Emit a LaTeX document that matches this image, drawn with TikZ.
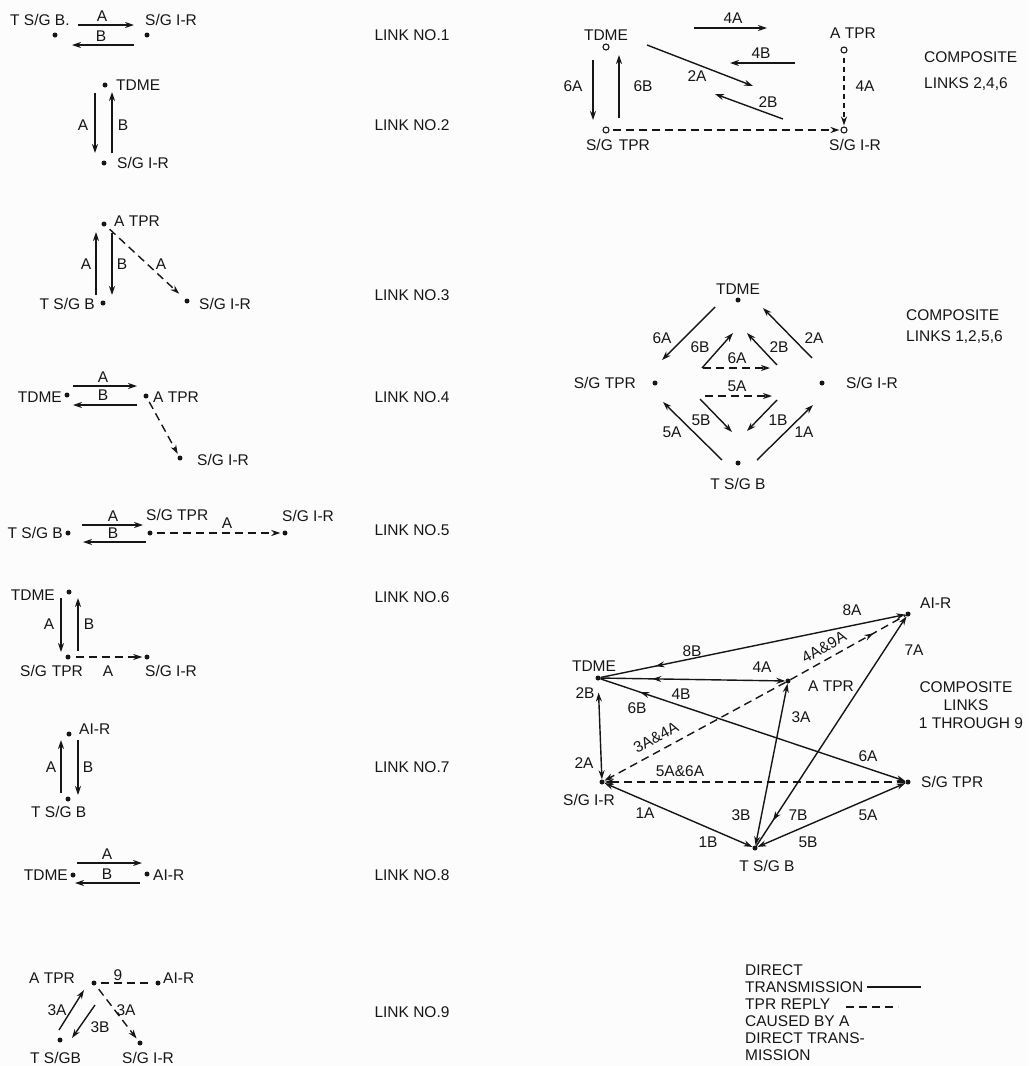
\documentclass[tikz,border=0pt]{standalone}
\usepackage{fontspec}
\setmainfont{Liberation Sans}
\usetikzlibrary{arrows.meta,calc,decorations.markings}
\definecolor{ink}{HTML}{161616}
\definecolor{paper}{HTML}{FCFCFC}
\tikzset{
  lb/.style={font=\fontsize{15.5}{18}\selectfont, text=ink, inner sep=0pt},
  dot/.style={circle, fill=ink, inner sep=0pt, minimum size=5pt},
  odot/.style={circle, draw=ink, line width=1.1pt, fill=paper, inner sep=0pt, minimum size=6pt},
  con/.style={draw=ink, line width=1.4pt},
  arr/.style={con, -{Stealth[length=9pt,width=6pt]}},
  barr/.style={con, {Stealth[length=9pt,width=6pt]}-{Stealth[length=9pt,width=6pt]}},
  dsh/.style={con, dash pattern=on 8pt off 5pt},
  rep/.style={dsh, -{Stealth[length=9pt,width=6pt]}},
  mk/.style={postaction={decorate}, decoration={markings, mark=at position #1 with {\arrow[ink]{Stealth[length=9pt,width=6pt]}}}},
  mkr/.style={postaction={decorate}, decoration={markings, mark=at position #1 with {\arrowreversed[ink]{Stealth[length=9pt,width=6pt]}}}},
}
\begin{document}
\begin{tikzpicture}[x=1pt,y=-1pt]
\fill[paper] (0,0) rectangle (1029,1066);
\useasboundingbox (0,0) rectangle (1029,1066);

% ---------------- LINK 1
\node[lb,anchor=west] (a1t) at (10,20) {T S/G B.};
\node[dot] (a1) at (55,35) {};
\node[lb,anchor=west] (b1t) at (145,20) {S/G I-R};
\node[dot] (b1) at (147,35) {};
\coordinate (k1a) at (78,25); \coordinate (k1b) at (134,25);
\coordinate (k1c) at (134,45); \coordinate (k1d) at (72,45);
\draw[arr] (k1a) -- (k1b);
\draw[arr] (k1c) -- (k1d);
\node[lb] (k1A) at (102,16) {A};
\node[lb] (k1B) at (101,36) {B};
\node[lb] (n1) at (412,35) {LINK NO.1};

% ---------------- LINK 2
\node[dot] (a2) at (105,85) {};
\node[lb,anchor=west] (a2t) at (116,85) {TDME};
\node[dot] (b2) at (104,163) {};
\node[lb,anchor=west] (b2t) at (117,163) {S/G I-R};
\coordinate (k2a) at (95,93); \coordinate (k2b) at (95,153);
\coordinate (k2c) at (112,153); \coordinate (k2d) at (112,92);
\draw[arr] (k2a) -- (k2b);
\draw[arr] (k2c) -- (k2d);
\node[lb] (k2A) at (83,125) {A};
\node[lb] (k2B) at (123,125) {B};
\node[lb] (n2) at (412,125) {LINK NO.2};

% ---------------- LINK 3
\node[dot] (a3) at (104,224) {};
\node[lb,anchor=west] (a3t) at (114,221) {A TPR};
\node[dot] (b3) at (103,303) {};
\node[lb,anchor=east] (b3t) at (95,304) {T S/G B};
\node[dot] (c3) at (187,301) {};
\node[lb,anchor=west] (c3t) at (199,304) {S/G I-R};
\coordinate (k3a) at (96,295); \coordinate (k3b) at (96,232);
\coordinate (k3c) at (112,233); \coordinate (k3d) at (112,295);
\draw[arr] (k3a) -- (k3b);
\draw[arr] (k3c) -- (k3d);
\draw[rep, shorten <=5pt, shorten >=8pt] (a3) -- (c3);
\node[lb] (k3A) at (86,264) {A};
\node[lb] (k3B) at (122,264) {B};
\node[lb] (k3C) at (161,264) {A};
\node[lb] (n3) at (412,295) {LINK NO.3};

% ---------------- LINK 4
\node[lb,anchor=east] (a4t) at (62,397) {TDME};
\node[dot] (a4) at (67,395) {};
\node[dot] (p4) at (146,396) {};
\node[lb,anchor=west] (p4t) at (153,397) {A TPR};
\node[dot] (c4) at (180,458) {};
\node[lb,anchor=west] (c4t) at (197,460) {S/G I-R};
\coordinate (k4a) at (73,386); \coordinate (k4b) at (137,386);
\coordinate (k4c) at (137,405); \coordinate (k4d) at (73,405);
\draw[arr] (k4a) -- (k4b);
\draw[arr] (k4c) -- (k4d);
\draw[rep, shorten <=4pt, shorten >=2pt] (p4) -- (c4);
\node[lb] (k4A) at (103,377) {A};
\node[lb] (k4B) at (103,395) {B};
\node[lb] (n4) at (412,397) {LINK NO.4};

% ---------------- LINK 5
\node[lb,anchor=east] (b5t) at (63,533) {T S/G B};
\node[dot] (b5) at (68,533) {};
\node[dot] (g5) at (150,533) {};
\node[lb,anchor=west] (g5t) at (146,515) {S/G TPR};
\node[dot] (r5) at (285,533) {};
\node[lb,anchor=west] (r5t) at (282,516) {S/G I-R};
\coordinate (k5a) at (82,525); \coordinate (k5b) at (143,525);
\coordinate (k5c) at (146,542); \coordinate (k5d) at (83,542);
\draw[arr] (k5a) -- (k5b);
\draw[arr] (k5c) -- (k5d);
\draw[rep, shorten <=4pt, shorten >=2pt] (g5) -- (r5);
\node[lb] (k5A) at (113,516) {A};
\node[lb] (k5B) at (113,533) {B};
\node[lb] (k5C) at (227,523) {A};
\node[lb] (n5) at (412,530) {LINK NO.5};

% ---------------- LINK 6
\node[lb,anchor=east] (a6t) at (55,595) {TDME};
\node[dot] (a6) at (69,592) {};
\node[dot] (g6) at (68,657) {};
\node[lb,anchor=west] (g6t) at (20,671) {S/G\hspace{5pt}TPR};
\node[dot] (r6) at (147,657) {};
\node[lb,anchor=west] (r6t) at (145,671) {S/G I-R};
\coordinate (k6a) at (61,598); \coordinate (k6b) at (61,652);
\coordinate (k6c) at (78,651); \coordinate (k6d) at (78,598);
\draw[arr] (k6a) -- (k6b);
\draw[arr] (k6c) -- (k6d);
\draw[rep, shorten <=5pt, shorten >=2pt] (g6) -- (r6);
\node[lb] (k6A) at (49,624) {A};
\node[lb] (k6B) at (89,624) {B};
\node[lb] (k6C) at (108,671) {A};
\node[lb] (n6) at (412,597) {LINK NO.6};

% ---------------- LINK 7
\node[dot] (a7) at (69,734) {};
\node[lb,anchor=west] (a7t) at (79,729) {AI-R};
\node[dot] (b7) at (68,799) {};
\node[lb,anchor=west] (b7t) at (31,812) {T S/G B};
\coordinate (k7a) at (61,793); \coordinate (k7b) at (61,740);
\coordinate (k7c) at (78,740); \coordinate (k7d) at (78,795);
\draw[arr] (k7a) -- (k7b);
\draw[arr] (k7c) -- (k7d);
\node[lb] (k7A) at (51,767) {A};
\node[lb] (k7B) at (88,767) {B};
\node[lb] (n7) at (412,767) {LINK NO.7};

% ---------------- LINK 8
\node[lb,anchor=east] (a8t) at (68,875) {TDME};
\node[dot] (a8) at (73,875) {};
\node[dot] (b8) at (147,874) {};
\node[lb,anchor=west] (b8t) at (153,875) {AI-R};
\coordinate (k8a) at (77,863); \coordinate (k8b) at (142,863);
\coordinate (k8c) at (140,883); \coordinate (k8d) at (75,883);
\draw[arr] (k8a) -- (k8b);
\draw[arr] (k8c) -- (k8d);
\node[lb] (k8A) at (107,854) {A};
\node[lb] (k8B) at (107,874) {B};
\node[lb] (n8) at (412,875) {LINK NO.8};

% ---------------- LINK 9
\node[lb,anchor=west] (p9t) at (29,978) {A TPR};
\node[dot] (p9l) at (94,983) {};
\node[dot] (a9l) at (158,983) {};
\node[lb,anchor=west] (a9t) at (163,978) {AI-R};
\node[dot] (b9l) at (60,1040) {};
\node[lb,anchor=west] (b9t) at (30,1058) {T S/GB};
\node[dot] (r9l) at (140,1043) {};
\node[lb,anchor=west] (r9t) at (122,1058) {S/G I-R};
\draw[dsh, shorten <=4pt, shorten >=3pt] (p9l) -- (a9l);
\node[lb] (k9n) at (118,975) {9};
\coordinate (k9a) at (59,1030); \coordinate (k9b) at (84,990);
\coordinate (k9c) at (95,1005); \coordinate (k9d) at (72,1038);
\draw[arr] (k9a) -- (k9b);
\draw[arr] (k9c) -- (k9d);
\draw[rep, shorten <=5pt, shorten >=3pt] (p9l) -- (r9l);
\node[lb] (k9A) at (57,1010) {3A};
\node[lb] (k9B) at (100,1027) {3B};
\node[lb] (k9C) at (126,1010) {3A};
\node[lb] (n9) at (412,1012) {LINK NO.9};

% ---------------- COMPOSITE 2,4,6
\node[lb] (t6t) at (606,35) {TDME};
\node[odot] (t6c) at (606,47) {};
\node[lb,anchor=west] (p6t) at (830,33) {A TPR};
\node[odot] (p6c) at (844,50) {};
\node[odot] (g6c) at (606,130) {};
\node[lb] (g6ct) at (618,145) {S/G\hspace{6pt}TPR};
\node[odot] (r6c) at (844,130) {};
\node[lb,anchor=west] (r6ct) at (829,145) {S/G I-R};
\coordinate (m6a) at (593,60);  \coordinate (m6b) at (593,120);
\coordinate (m6c) at (619,118); \coordinate (m6d) at (619,55);
\coordinate (m6e) at (694,28);  \coordinate (m6f) at (767,28);
\coordinate (m6g) at (795,63);  \coordinate (m6h) at (730,63);
\coordinate (m6i) at (647,45);  \coordinate (m6j) at (753,86);
\coordinate (m6k) at (783,119); \coordinate (m6l) at (715,94);
\draw[arr] (m6a) -- (m6b);
\draw[arr] (m6c) -- (m6d);
\draw[arr] (m6e) -- (m6f);
\draw[arr] (m6g) -- (m6h);
\draw[arr] (m6i) -- (m6j);
\draw[arr] (m6k) -- (m6l);
\draw[rep, shorten <=3pt, shorten >=1pt] (g6c) -- (r6c);
\draw[rep, shorten <=4pt, shorten >=1pt, dash pattern=on 5pt off 4pt] (p6c) -- (r6c);
\node[lb] (c6a) at (573,86) {6A};
\node[lb] (c6b) at (643,86) {6B};
\node[lb] (c6c) at (733,18) {4A};
\node[lb] (c6d) at (761,53) {4B};
\node[lb] (c6e) at (697,76) {2A};
\node[lb] (c6f) at (768,102) {2B};
\node[lb] (c6g) at (865,86) {4A};
\node[lb,anchor=west] (c6h) at (924,57) {COMPOSITE};
\node[lb,anchor=west] (c6i) at (924,84) {LINKS 2,4,6};

% ---------------- COMPOSITE 1,2,5,6
\node[lb] (t5t) at (738,289) {TDME};
\node[dot] (t5c) at (738,300) {};
\node[lb,anchor=east] (g5ct) at (636,383) {S/G TPR};
\node[dot] (g5c) at (655,383) {};
\node[dot] (r5c) at (822,383) {};
\node[lb,anchor=west] (r5ct) at (846,383) {S/G I-R};
\node[dot] (b5c) at (738,463) {};
\node[lb] (b5ct) at (738,484) {T S/G B};
\coordinate (m5a) at (715,307); \coordinate (m5b) at (662,360);
\coordinate (m5c) at (702,368); \coordinate (m5d) at (733,333);
\coordinate (m5e) at (777,365); \coordinate (m5f) at (747,333);
\coordinate (m5g) at (812,358); \coordinate (m5h) at (763,308);
\coordinate (m5i) at (703,368); \coordinate (m5j) at (770,368);
\coordinate (m5k) at (705,396); \coordinate (m5l) at (772,396);
\coordinate (m5m) at (722,460); \coordinate (m5n) at (663,402);
\coordinate (m5o) at (700,399); \coordinate (m5p) at (732,432);
\coordinate (m5q) at (777,400); \coordinate (m5r) at (747,431);
\coordinate (m5s) at (757,460); \coordinate (m5t) at (813,405);
\draw[arr] (m5a) -- (m5b);
\draw[arr] (m5c) -- (m5d);
\draw[arr] (m5e) -- (m5f);
\draw[arr] (m5g) -- (m5h);
\draw[rep] (m5i) -- (m5j);
\draw[rep] (m5k) -- (m5l);
\draw[arr] (m5m) -- (m5n);
\draw[arr] (m5o) -- (m5p);
\draw[arr] (m5q) -- (m5r);
\draw[arr] (m5s) -- (m5t);
\node[lb] (c5a) at (662,338) {6A};
\node[lb] (c5b) at (700,347) {6B};
\node[lb] (c5c) at (779,347) {2B};
\node[lb] (c5d) at (814,338) {2A};
\node[lb] (c5e) at (737,358) {6A};
\node[lb] (c5f) at (737,386) {5A};
\node[lb] (c5g) at (672,432) {5A};
\node[lb] (c5h) at (701,420) {5B};
\node[lb] (c5i) at (778,420) {1B};
\node[lb] (c5j) at (804,432) {1A};
\node[lb,anchor=west] (c5k) at (906,315) {COMPOSITE};
\node[lb,anchor=west] (c5l) at (906,337) {LINKS 1,2,5,6};

% ---------------- COMPOSITE 1 THROUGH 9
\node[dot] (tc) at (598,678) {};
\node[lb] (tct) at (594,666) {TDME};
\node[dot] (pc) at (788,681) {};
\node[lb,anchor=west] (pct) at (808,686) {A TPR};
\node[dot] (ac) at (908,614) {};
\node[lb,anchor=west] (act) at (920,603) {AI-R};
\node[dot] (sc) at (602,782) {};
\node[lb] (sct) at (589,800) {S/G I-R};
\node[dot] (gc) at (908,782) {};
\node[lb,anchor=west] (gct) at (921,782) {S/G TPR};
\node[dot] (bc) at (755,848) {};
\node[lb] (bct) at (767,866) {T S/G B};

\draw[arr, mkr=0.18] (tc) -- (ac);
\draw[arr, mkr=0.28] (tc) -- (pc);
\draw[arr, mkr=0.13] (tc) -- (gc);
\draw[barr] ($(tc)!0.14!(sc)$) -- (sc);
\draw[dsh, mk=0.72] (pc) -- (ac);
\draw[rep] (pc) -- (sc);
\draw[barr] (bc) -- (pc);
\draw[arr, mkr=0.11] (bc) -- (ac);
\draw[rep] (gc) -- (sc);
\draw[barr] (sc) -- (bc);
\draw[barr] (bc) -- (gc);

\node[lb] (d1) at (852,610) {8A};
\node[lb] (d2) at (692,651) {8B};
\node[lb] (d3) at (762,667) {4A};
\node[lb] (d4) at (681,694) {4B};
\node[lb] (d5) at (637,708) {6B};
\node[lb] (d6) at (868,756) {6A};
\node[lb] (d7) at (585,693) {2B};
\node[lb] (d8) at (584,763) {2A};
\node[lb] (d9) at (801,717) {3A};
\node[lb] (d10) at (741,815) {3B};
\node[lb] (d11) at (798,815) {7B};
\node[lb] (d12) at (914,650) {7A};
\node[lb] (d13) at (645,813) {1A};
\node[lb] (d14) at (708,842) {1B};
\node[lb] (d15) at (868,815) {5A};
\node[lb] (d16) at (808,842) {5B};
\node[lb, rotate=29] (d17) at (824,647) {4A\&9A};
\node[lb, rotate=28] (d18) at (656,737) {3A\&4A};
\node[lb] (d19) at (680,771) {5A\&6A};
\node[lb] (d20) at (966,687) {COMPOSITE};
\node[lb] (d21) at (966,705) {LINKS};
\node[lb] (d22) at (971,723) {1 THROUGH 9};

% ---------------- LEGEND
\node[lb,anchor=west] (e1) at (745,970) {DIRECT};
\node[lb,anchor=west] (e2) at (745,987) {TRANSMISSION};
\node[lb,anchor=west] (e3) at (745,1004) {TPR REPLY};
\node[lb,anchor=west] (e4) at (745,1021) {CAUSED BY A};
\node[lb,anchor=west] (e5) at (745,1038) {DIRECT TRANS-};
\node[lb,anchor=west] (e6) at (745,1055) {MISSION};
\coordinate (e2a) at ([xshift=4pt]e2.east); \coordinate (e2b) at ([xshift=58pt]e2.east);
\coordinate (e3a) at ([xshift=16pt,yshift=-3pt]e3.east); \coordinate (e3b) at ([xshift=68pt,yshift=-3pt]e3.east);
\draw[con, line width=1.1pt] (e2a) -- (e2b);
\draw[dsh, line width=1.1pt] (e3a) -- (e3b);
\end{tikzpicture}
\end{document}
